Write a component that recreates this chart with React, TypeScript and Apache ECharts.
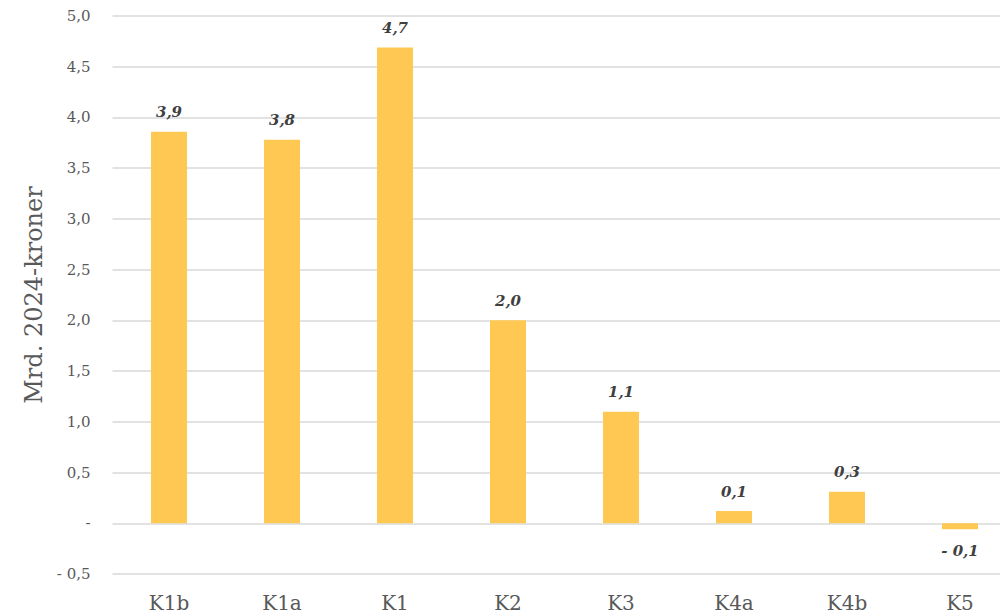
import React, { useEffect, useRef } from "react";
import * as echarts from "echarts";

const categories = ["K1b", "K1a", "K1", "K2", "K3", "K4a", "K4b", "K5"];
const values = [3.86, 3.78, 4.69, 2.0, 1.1, 0.12, 0.31, -0.06];
const yTicks = { min: -0.5, max: 5.0, interval: 0.5 };

const FONT = "DejaVu Serif";

function fmt(v: number, digits = 1): string {
  const r = Math.round(Math.abs(v) * 10) / 10;
  if (r === 0 && Math.abs(v) < 1e-9) return "-";
  const s = r.toFixed(digits).replace(".", ",");
  return v < 0 ? "- " + s : s;
}

export default function App() {
  const ref = useRef<HTMLDivElement>(null);
  useEffect(() => {
    if (!ref.current) return;
    const chart = echarts.init(ref.current, undefined, { renderer: "svg" });
    chart.setOption({
      animation: false,
      backgroundColor: "#ffffff",
      grid: {
        left: 112.5,
        width: 904,
        top: 16,
        bottom: 41,
        outerBoundsMode: "none",
        containLabel: false,
      },
      xAxis: {
        type: "category",
        data: categories,
        axisLine: { show: false },
        axisTick: { show: false },
        axisLabel: {
          color: "#595959",
          fontFamily: FONT,
          fontSize: 20,
          margin: 19,
        },
      },
      yAxis: {
        type: "value",
        min: yTicks.min,
        max: yTicks.max,
        interval: yTicks.interval,
        name: "Mrd. 2024-kroner",
        nameLocation: "middle",
        nameGap: 67,
        nameTextStyle: { color: "#595959", fontFamily: FONT, fontSize: 24 },
        axisLine: { show: false },
        axisTick: { show: false },
        axisLabel: {
          color: "#595959",
          fontFamily: FONT,
          fontSize: 15,
          margin: 22,
          formatter: (v: number) => fmt(v),
        },
        splitLine: { lineStyle: { color: "#d9d9d9", width: 1.5 } },
      },
      series: [
        {
          type: "bar",
          barWidth: 36,
          itemStyle: { color: "#FFC853" },
          data: values.map((v) => ({
            value: v,
            label: {
              show: true,
              position: v < 0 ? "bottom" : "top",
              distance: v < 0 ? 14 : 12,
              formatter: () => fmt(v),
              fontFamily: FONT,
              fontStyle: "italic",
              fontWeight: "bold",
              fontSize: 15,
              color: "#404040",
            },
          })),
        },
      ],
    });
    return () => chart.dispose();
  }, []);
  return (
    <div
      ref={ref}
      style={{ position: "fixed", left: 0, top: 0, width: 1000, height: 615 }}
    />
  );
}
